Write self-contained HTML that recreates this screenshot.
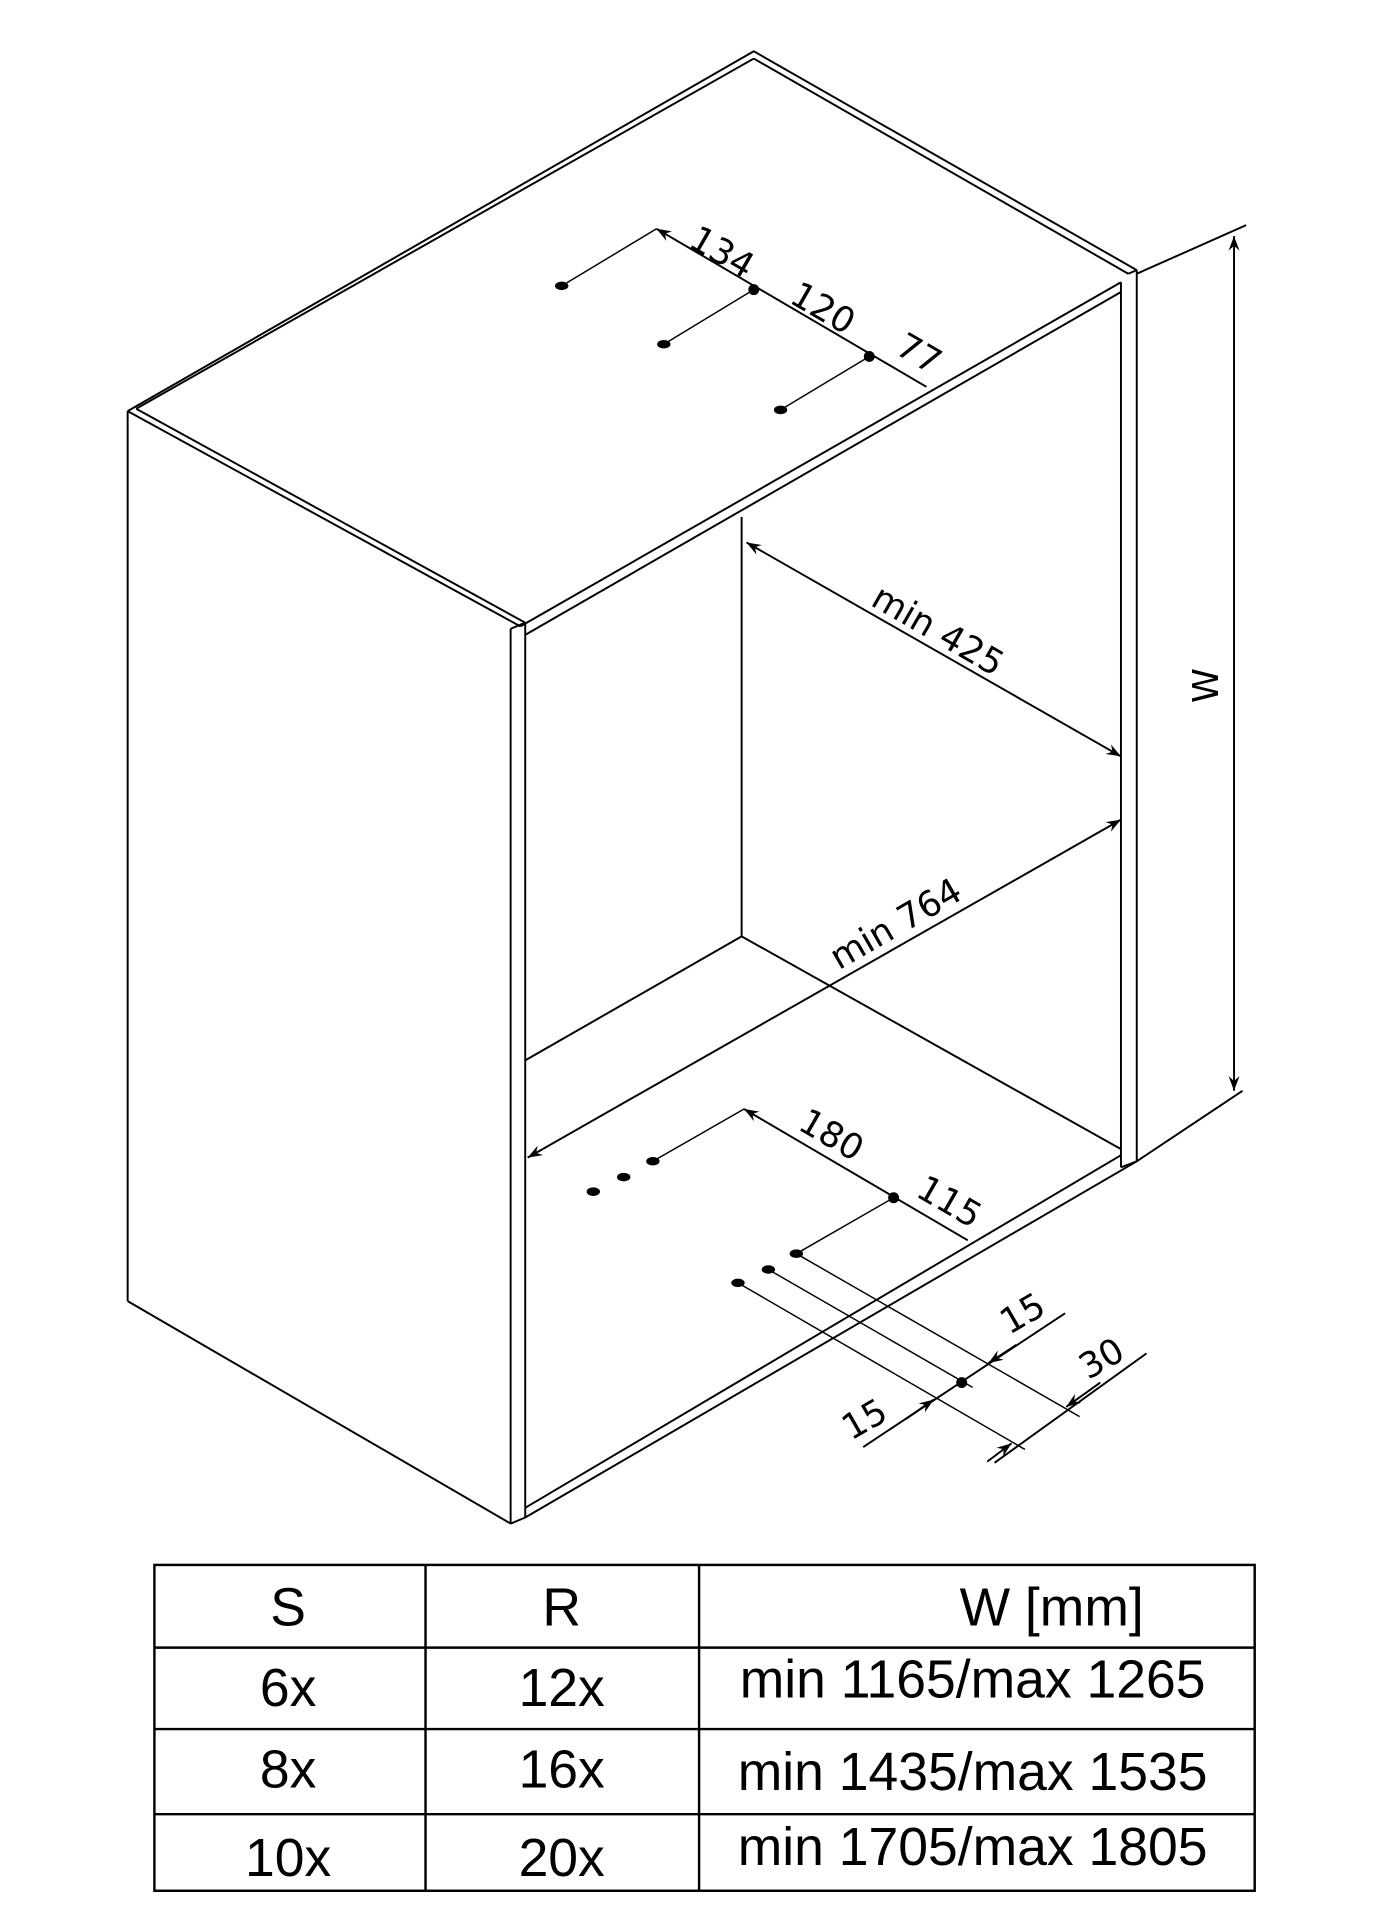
<!DOCTYPE html>
<html><head><style>html,body{margin:0;padding:0;background:#fff}svg{display:block}</style></head><body>
<svg width="1386" height="1908" viewBox="0 0 1140 1569" xmlns="http://www.w3.org/2000/svg" font-family="Liberation Sans, DejaVu Sans, sans-serif">
<defs><marker id="a" viewBox="0 0 12 10" refX="12" refY="5" markerWidth="12" markerHeight="10" markerUnits="userSpaceOnUse" orient="auto-start-reverse"><path d="M0,0.5 L12,5 L0,9.5 L4,5 Z" fill="#000"/></marker></defs>
<g stroke="#000" stroke-width="1.6" fill="none">
<!-- top -->
<polyline points="105,338 620,42 935,222"/>
<line x1="112" y1="336" x2="620" y2="48"/>
<line x1="620" y1="48" x2="928" y2="225"/>
<line x1="105" y1="338" x2="428" y2="515"/>
<line x1="112" y1="336" x2="432" y2="512"/>
<line x1="428" y1="515" x2="922" y2="232"/>
<line x1="432" y1="522" x2="922" y2="240"/>
<!-- left panel -->
<line x1="105" y1="338" x2="105" y2="1070"/>
<line x1="105" y1="1070" x2="420" y2="1253"/>
<line x1="420" y1="517" x2="420" y2="1253"/>
<line x1="432" y1="512" x2="432" y2="1248"/>
<line x1="420" y1="517" x2="432" y2="512"/>
<line x1="420" y1="1253" x2="432" y2="1248"/>
<!-- right panel -->
<line x1="922" y1="232" x2="922" y2="960"/>
<line x1="935" y1="222" x2="935" y2="955"/>
<line x1="928" y1="225" x2="935" y2="222"/>
<line x1="922" y1="960" x2="935" y2="955"/>
<!-- bottom -->
<line x1="432" y1="1240" x2="922" y2="950"/>
<line x1="432" y1="1248" x2="935" y2="955"/>
<!-- interior -->
<line x1="610" y1="425" x2="610" y2="770"/>
<line x1="610" y1="770" x2="432" y2="872"/>
<line x1="610" y1="770" x2="922" y2="945"/>
<!-- W dim -->
<line x1="935" y1="225" x2="1025" y2="185"/>
<line x1="935" y1="955" x2="1022" y2="897"/>
<line x1="1015" y1="194" x2="1015" y2="897" marker-start="url(#a)" marker-end="url(#a)"/>
<!-- min 425 -->
<line x1="614" y1="446" x2="922" y2="622" marker-start="url(#a)" marker-end="url(#a)"/>
<!-- min 764 -->
<line x1="434" y1="952" x2="922" y2="674" marker-start="url(#a)" marker-end="url(#a)"/>
</g>
<g stroke="#000" stroke-width="1.2" fill="none">
<!-- top holes dims -->
<line x1="462" y1="235" x2="540" y2="188"/>
<line x1="540" y1="188" x2="762" y2="318" marker-start="url(#a)" stroke-width="1.6"/>
<line x1="546" y1="283" x2="620" y2="238"/>
<line x1="642" y1="337" x2="715" y2="293"/>
<!-- bottom dims -->
<line x1="537" y1="955" x2="612" y2="912"/>
<line x1="612" y1="912" x2="796" y2="1020" marker-start="url(#a)" stroke-width="1.6"/>
<line x1="655" y1="1031" x2="735" y2="985"/>
<line x1="655" y1="1031" x2="888" y2="1165"/>
<line x1="632" y1="1044" x2="800" y2="1141"/>
<line x1="607" y1="1055" x2="843" y2="1192"/>
<line x1="710" y1="1190" x2="876" y2="1080" stroke-width="1.6"/>
<line x1="745" y1="1167" x2="768" y2="1151" marker-end="url(#a)" stroke-width="1.6"/>
<line x1="836" y1="1106" x2="813" y2="1121" marker-end="url(#a)" stroke-width="1.6"/>
<line x1="818" y1="1203" x2="943" y2="1113" stroke-width="1.6"/>
<line x1="905" y1="1137" x2="877" y2="1157" marker-end="url(#a)" stroke-width="1.6"/>
<line x1="812" y1="1202" x2="832" y2="1187" marker-end="url(#a)" stroke-width="1.6"/>
</g>
<g fill="#000">
<ellipse cx="462" cy="235" rx="5.5" ry="3.5"/><ellipse cx="546" cy="283" rx="5.5" ry="3.5"/><ellipse cx="642" cy="337" rx="5.5" ry="3.5"/>
<circle cx="620" cy="238" r="4.5"/><circle cx="715" cy="293" r="4.5"/>
<ellipse cx="488" cy="980" rx="5.5" ry="3.5"/><ellipse cx="513" cy="968" rx="5.5" ry="3.5"/><ellipse cx="537" cy="955" rx="5.5" ry="3.5"/>
<ellipse cx="607" cy="1055" rx="5.5" ry="3.5"/><ellipse cx="632" cy="1044" rx="5.5" ry="3.5"/><ellipse cx="655" cy="1031" rx="5.5" ry="3.5"/>
<circle cx="735" cy="985" r="4.5"/><circle cx="791" cy="1137" r="4.5"/>
</g>
<g font-size="29" fill="#000" font-family="DejaVu Sans, sans-serif">
<text transform="translate(565,202) rotate(30)">134</text>
<text transform="translate(648,248) rotate(30)">120</text>
<text transform="translate(735,290) rotate(30)">77</text>
<text transform="translate(715,497) rotate(30)">min 425</text>
<text transform="translate(690,798) rotate(-30)">min 764</text>
<text transform="translate(655,928) rotate(30)">180</text>
<text transform="translate(752,983) rotate(30)">115</text>
<text transform="translate(830,1098) rotate(-30)">15</text>
<text transform="translate(895,1135) rotate(-30)">30</text>
<text transform="translate(700,1185) rotate(-30)">15</text>
<text transform="translate(1002,578) rotate(-90)">W</text>
</g>
<g stroke="#000" stroke-width="2" fill="none">
<rect x="127" y="1287" width="905" height="268"/>
<line x1="127" y1="1355" x2="1032" y2="1355"/><line x1="127" y1="1422" x2="1032" y2="1422"/><line x1="127" y1="1492" x2="1032" y2="1492"/>
<line x1="350" y1="1287" x2="350" y2="1555"/><line x1="575" y1="1287" x2="575" y2="1555"/>
</g>
<g font-size="44" fill="#000" text-anchor="middle">
<text x="237" y="1337">S</text><text x="462" y="1337">R</text><text x="865" y="1337">W [mm]</text>
<text x="237" y="1403">6x</text><text x="462" y="1403">12x</text><text x="800" y="1396">min 1165/max 1265</text>
<text x="237" y="1470">8x</text><text x="462" y="1470">16x</text><text x="800" y="1472">min 1435/max 1535</text>
<text x="237" y="1543">10x</text><text x="462" y="1543">20x</text><text x="800" y="1534">min 1705/max 1805</text>
</g>
</svg>
</body></html>
